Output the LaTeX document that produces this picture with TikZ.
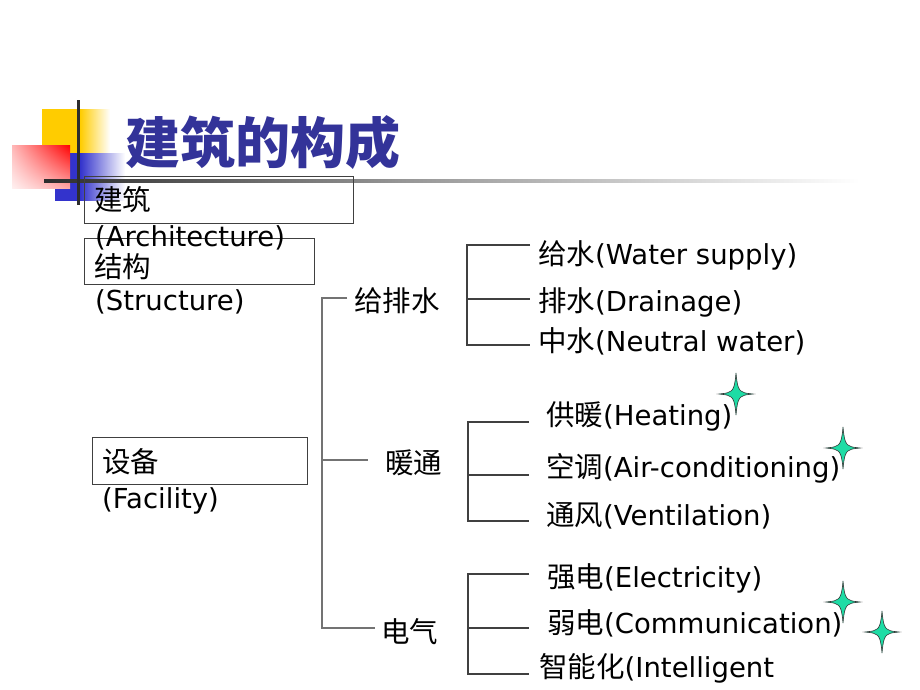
\documentclass[tikz,border=0pt]{standalone}
\usepackage{fontspec}
\usetikzlibrary{shadings}
\setmainfont{DejaVu Sans}
\newfontfamily\cjk{Noto Sans CJK SC}
\newcommand\zhtext[1]{{\cjk\fontsize{28.5}{32}\selectfont #1}}
\definecolor{titleblue}{RGB}{51,51,153}
\definecolor{decoyellow}{RGB}{255,204,0}
\definecolor{decoblue}{RGB}{51,51,204}
\definecolor{starcol}{RGB}{30,220,165}
\definecolor{treegray}{RGB}{115,115,115}
\definecolor{linedark}{RGB}{45,45,45}
\definecolor{linemid}{RGB}{150,150,150}
\pgfdeclarehorizontalshading{yfade}{100bp}{color(0bp)=(decoyellow); color(53bp)=(decoyellow); color(75bp)=(white); color(100bp)=(white)}
\pgfdeclarehorizontalshading{bfade}{100bp}{color(0bp)=(decoblue); color(43bp)=(decoblue); color(75bp)=(white); color(100bp)=(white)}
\pgfdeclarehorizontalshading{lfade}{100bp}{color(0bp)=(linedark); color(25bp)=(linedark); color(47bp)=(linemid); color(75bp)=(white); color(100bp)=(white)}
\tikzset{
  lbl/.style={anchor=west, inner sep=0, font=\fontsize{27.5}{32}\selectfont},
  boxframe/.style={draw=black!75, line width=1.1pt, inner sep=0, anchor=north west},
  mainline/.style={draw=treegray, line width=1.8pt},
  subline/.style={draw=black!75, line width=1.1pt},
  sparkle/.pic={\draw[fill=starcol, draw=black!80, line width=0.6pt]
     (0,-21) .. controls (1,-8) and (3,-4) .. (5,-3) .. controls (8,-1) .. (17,0)
     .. controls (8,1) .. (5,3) .. controls (3,4) and (1,8) .. (0,21)
     .. controls (-1,8) and (-3,4) .. (-5,3) .. controls (-8,1) .. (-17,0)
     .. controls (-8,-1) .. (-5,-3) .. controls (-3,-4) and (-1,-8) .. (0,-21) -- cycle;}
}
\begin{document}
\begin{tikzpicture}[x=1pt,y=-1pt]
\useasboundingbox[fill=white] (0,0) rectangle (920,690);
% decoration
\shade[shading=yfade] (42,110) rectangle (110,170);
\shade[shading=bfade] (55,153) rectangle (125,200);
\shade[upper right=red, upper left=red!28, lower right=red!35, lower left=red!6] (12,145) rectangle (70,188);
\shade[shading=lfade] (44,179.5) rectangle (860,182.5);
\fill[linedark] (76.5,100) rectangle (79.5,205);
% title
\node[anchor=west, inner sep=0, text=titleblue, font=\cjk\bfseries\fontsize{55}{60}\selectfont] (title) at (125,143) {建筑的构成};
% boxes
\node[boxframe, minimum width=269, minimum height=47] (b1) at (84,176) {};
\node[boxframe, minimum width=230, minimum height=46] (b2) at (84,238) {};
\node[boxframe, minimum width=215, minimum height=47] (b3) at (92,437) {};
\node[lbl] (b1a) at (94,200) {\zhtext{建筑}};
\node[lbl] (b1b) at (95,238) {(Architecture)};
\node[lbl] (b2a) at (94,266.5) {\zhtext{结构}};
\node[lbl] (b2b) at (95,302) {(Structure)};
\node[lbl] (b3a) at (102,462) {\zhtext{设备}};
\node[lbl] (b3b) at (102,501) {(Facility)};
% tree labels
\node[lbl] (gps) at (354,301) {\zhtext{给排水}};
\node[lbl] (nt) at (385,463) {\zhtext{暖通}};
\node[lbl] (dq) at (381,632) {\zhtext{电气}};
\node[lbl] (ws) at (538,255) {\zhtext{给水}(Water supply)};
\node[lbl] (dr) at (538,302) {\zhtext{排水}(Drainage)};
\node[lbl] (nw) at (538,341) {\zhtext{中水}(Neutral water)};
\node[lbl] (ht) at (546,416) {\zhtext{供暖}(Heating)};
\node[lbl] (ac) at (546,468) {\zhtext{空调}(Air-conditioning)};
\node[lbl] (vt) at (546,516) {\zhtext{通风}(Ventilation)};
\node[lbl] (el) at (547,578) {\zhtext{强电}(Electricity)};
\node[lbl] (cm) at (547,623) {\zhtext{弱电}(Communication)};
\node[lbl] (it) at (539,668) {\zhtext{智能化}(Intelligent};
% main bracket
\coordinate (j1) at (322,298);
\coordinate (j2) at (322,460);
\coordinate (j3) at (322,628);
\coordinate (a1) at (347,298);
\coordinate (a2) at (368,460);
\coordinate (a3) at (375,628);
\draw[mainline] (a1) -- (j1) -- (j3) -- (a3);
\draw[mainline] (j2) -- (a2);
% sub bracket 1
\coordinate (s1t) at (467,245); \coordinate (s1m) at (467,299); \coordinate (s1b) at (467,345);
\coordinate (e1t) at (530,245); \coordinate (e1m) at (530,299); \coordinate (e1b) at (530,345);
\draw[subline] (e1t) -- (s1t) -- (s1b) -- (e1b);
\draw[subline] (s1m) -- (e1m);
% sub bracket 2
\coordinate (s2t) at (468,422); \coordinate (s2m) at (468,475); \coordinate (s2b) at (468,521);
\coordinate (e2t) at (529,422); \coordinate (e2m) at (529,475); \coordinate (e2b) at (529,521);
\draw[subline] (e2t) -- (s2t) -- (s2b) -- (e2b);
\draw[subline] (s2m) -- (e2m);
% sub bracket 3
\coordinate (s3t) at (468,574); \coordinate (s3m) at (468,628); \coordinate (s3b) at (468,674);
\coordinate (e3t) at (529,574); \coordinate (e3m) at (529,628); \coordinate (e3b) at (529,674);
\draw[subline] (e3t) -- (s3t) -- (s3b) -- (e3b);
\draw[subline] (s3m) -- (e3m);
% stars
\pic at (736,394) {sparkle};
\pic at (843,448) {sparkle};
\pic at (843,602) {sparkle};
\pic at (882,632) {sparkle};
\end{tikzpicture}
\end{document}
